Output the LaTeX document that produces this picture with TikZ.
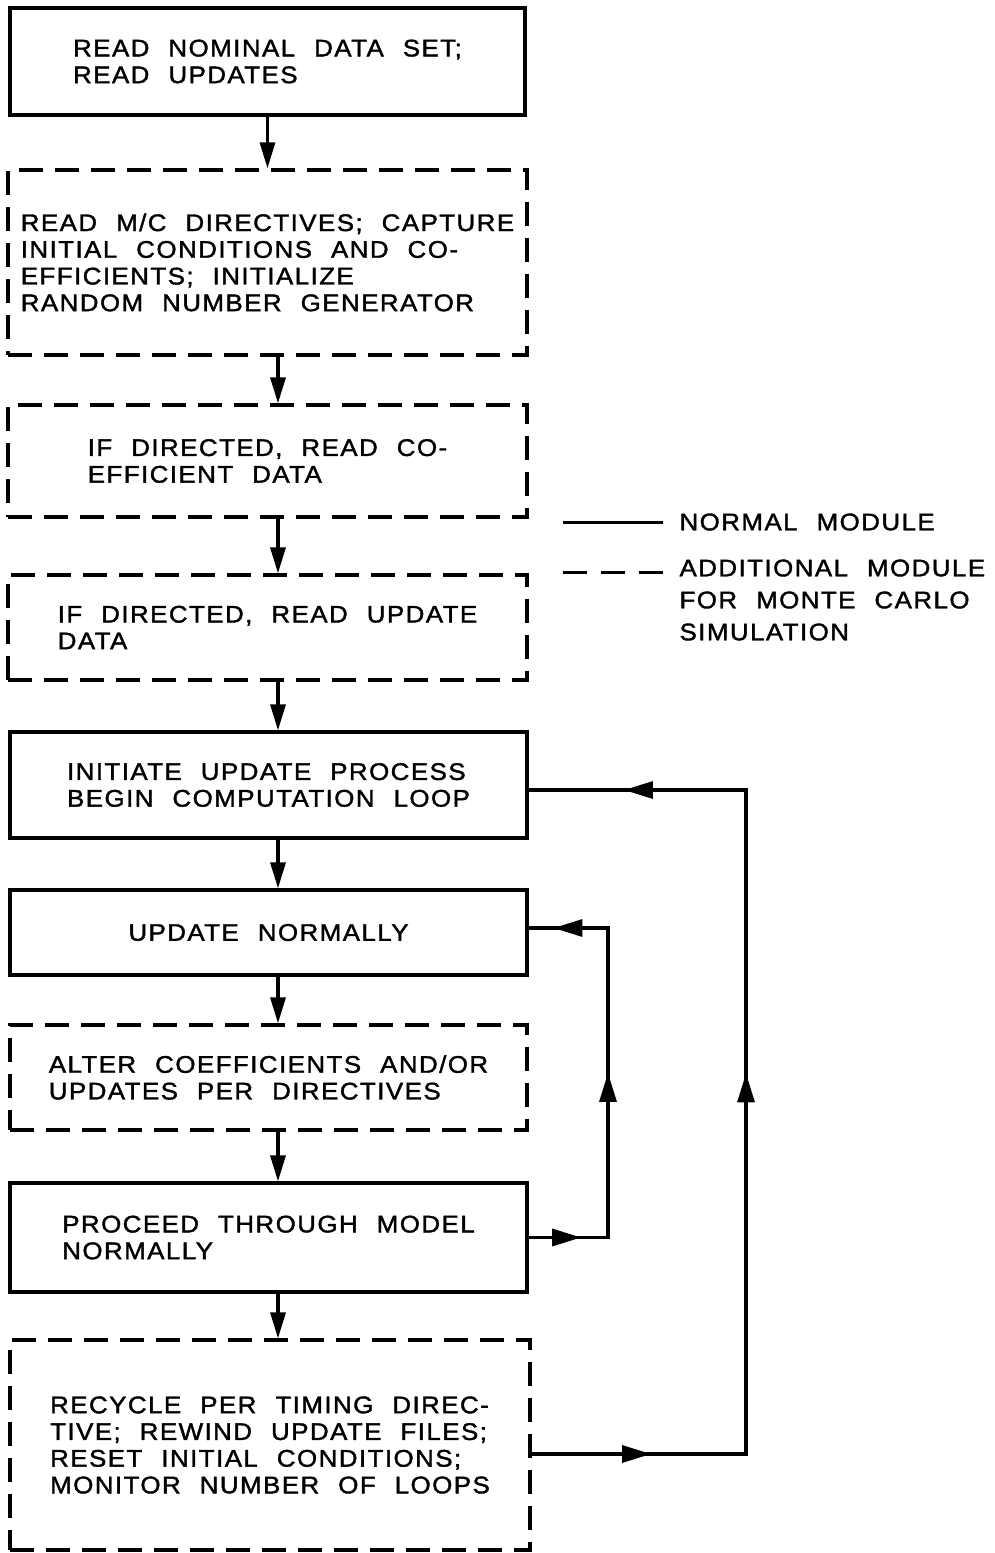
\documentclass[tikz,border=0pt]{standalone}
\usepackage{fontspec}
\setmainfont{Liberation Sans}[LetterSpace=6, WordSpace=2.2, FakeStretch=1.08, FakeBold=1.5]
\usetikzlibrary{arrows.meta,decorations.markings}
\begin{document}
\begin{tikzpicture}[x=1pt,y=-1pt,
  every node/.style={font=\fontsize{24}{26.7}\selectfont},
  boxbase/.style={draw, line width=3.3pt, inner sep=0pt, align=left, minimum width=517pt},
  solidbox/.style={boxbase},
  dashbox/.style={boxbase, dash pattern=on 24pt off 12pt},
  flow/.style={line width=3.3pt, -{Triangle[length=26pt,width=15pt]}},
  loopline/.style={line width=3.3pt},
  tipsat/.style args={#1/#2/#3}{postaction={decorate}, decoration={markings,
      mark=at position #1 with {\arrow{Triangle[length=29pt,width=17pt]}},
      mark=at position #2 with {\arrow{Triangle[length=29pt,width=17pt]}},
      mark=at position #3 with {\arrow{Triangle[length=29pt,width=17pt]}}}},
  legtext/.style={anchor=west, align=left, font=\fontsize{24}{32}\selectfont}
]
\useasboundingbox (0,0) rectangle (995,1553);

\node[solidbox, minimum width=515pt, minimum height=107pt] (b1) at (267.5,61.5)
  {READ NOMINAL DATA SET;\\READ UPDATES};
\node[dashbox, minimum width=519pt, minimum height=185pt] (b2) at (267.5,262.5)
  {READ M/C DIRECTIVES; CAPTURE\\INITIAL CONDITIONS AND CO-\\EFFICIENTS; INITIALIZE\\RANDOM NUMBER GENERATOR};
\node[dashbox, minimum width=519pt, minimum height=112pt] (b3) at (267.5,461)
  {IF DIRECTED, READ CO-\\EFFICIENT DATA};
\node[dashbox, minimum width=519pt, minimum height=105pt] (b4) at (267.5,627.5)
  {IF DIRECTED, READ UPDATE\\DATA};
\node[solidbox, minimum height=106pt] (b5) at (268.5,785)
  {INITIATE UPDATE PROCESS\\BEGIN COMPUTATION LOOP};
\node[solidbox, minimum height=85pt] (b6) at (268.5,932.5)
  {UPDATE NORMALLY};
\node[dashbox, minimum height=105pt] (b7) at (268.5,1077.5)
  {ALTER COEFFICIENTS AND/OR\\UPDATES PER DIRECTIVES};
\node[solidbox, minimum height=109pt] (b8) at (268.5,1237.5)
  {PROCEED THROUGH MODEL\\NORMALLY};
\node[dashbox, minimum width=520pt, minimum height=210pt] (b9) at (270,1445)
  {RECYCLE PER TIMING DIREC-\\TIVE; REWIND UPDATE FILES;\\RESET INITIAL CONDITIONS;\\MONITOR NUMBER OF LOOPS};

% downward flow
\draw[flow] (b1.south) -- (b2.north);
\draw[flow] ([xshift=10.5pt]b2.south) -- ([xshift=10.5pt]b3.north);
\draw[flow] ([xshift=10.5pt]b3.south) -- ([xshift=10.5pt]b4.north);
\draw[flow] ([xshift=10.5pt]b4.south) -- ([xshift=9.5pt]b5.north);
\draw[flow] ([xshift=9.5pt]b5.south) -- ([xshift=9.5pt]b6.north);
\draw[flow] ([xshift=9.5pt]b6.south) -- ([xshift=9.5pt]b7.north);
\draw[flow] ([xshift=9.5pt]b7.south) -- ([xshift=9.5pt]b8.north);
\draw[flow] ([xshift=9.5pt]b8.south) -- ([xshift=8pt]b9.north);

% feedback loops
\coordinate (ci) at (608,1080);
\coordinate (co) at (746,1080);
\draw[loopline, tipsat=0.112/0.521/0.947]
  (b8.east) -| (ci) |- ([yshift=4.5pt]b6.east);
\draw[loopline, tipsat=0.109/0.543/0.913]
  ([yshift=-9pt]b9.east) -| (co) |- ([yshift=-5pt]b5.east);

% legend
\coordinate (la) at (563,522);
\coordinate (lb) at (663,522);
\coordinate (lc) at (563,572);
\coordinate (ld) at (663,572);
\draw[line width=3pt] (la) -- (lb);
\draw[line width=3pt, dash pattern=on 24pt off 14pt] (lc) -- (ld);
\node[legtext] (t1) at (676,522) {NORMAL MODULE};
\node[legtext, anchor=north west] (t2) at (676,556) {ADDITIONAL MODULE\\FOR MONTE CARLO\\SIMULATION};
\end{tikzpicture}
\end{document}
